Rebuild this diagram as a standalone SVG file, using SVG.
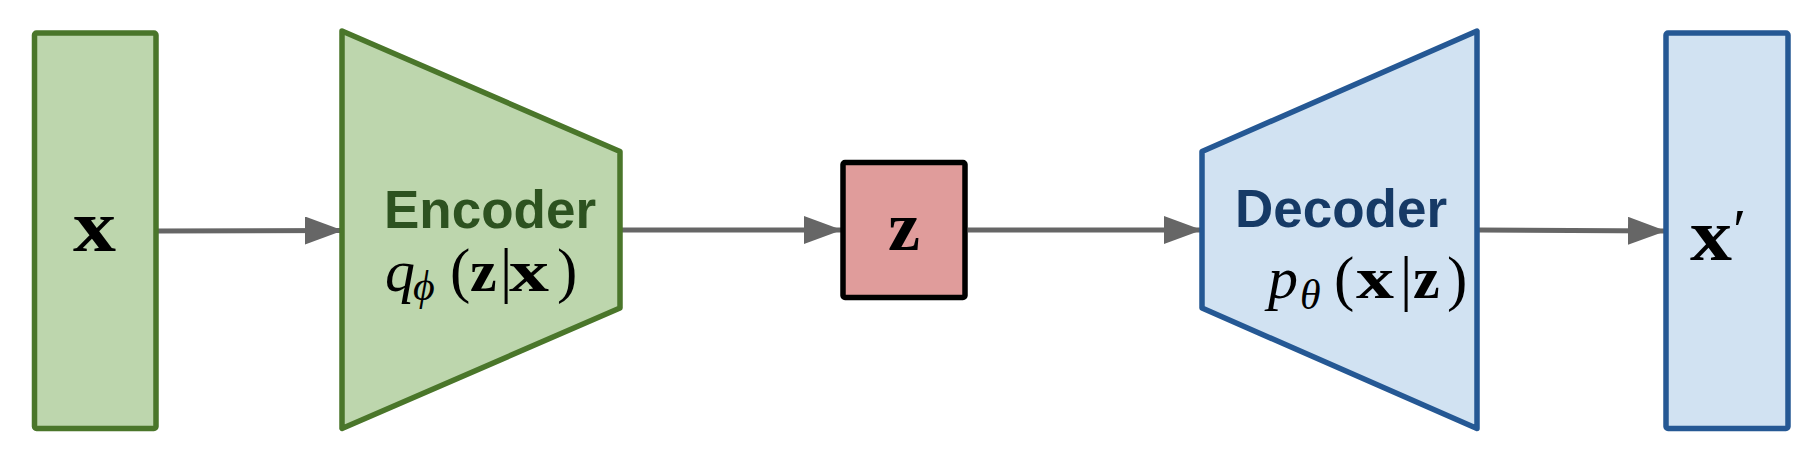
<svg xmlns="http://www.w3.org/2000/svg" width="1806" height="464" viewBox="0 0 1806 464">
<style>
.green{fill:#bdd6ad;stroke:#4a762a;stroke-width:5.5;stroke-linejoin:round}
.blue{fill:#d1e2f2;stroke:#255894;stroke-width:5.5;stroke-linejoin:round}
.red{fill:#e09c9b;stroke:#000;stroke-width:5.5;stroke-linejoin:round}
.conn{stroke:#666;stroke-width:5;fill:none}
.lbl{font-family:"Liberation Sans",Arial,sans-serif;font-weight:bold;font-size:53px}
.m{font-family:"Liberation Serif","Times New Roman",serif;font-size:60px;fill:#000}
.it{font-style:italic}
.bf{font-weight:bold}
.par{font-size:61px}
.big{font-family:"Liberation Serif","Times New Roman",serif;font-weight:bold;fill:#000}
</style>
<defs>
<marker id="arr" markerUnits="userSpaceOnUse" markerWidth="38" markerHeight="28" viewBox="0 0 38 28" refX="37" refY="14" orient="auto">
<path d="M0,0 L38,14 L0,28 Z" fill="#666"/>
</marker>
</defs>
<g id="connectors">
<line class="conn" x1="157" y1="231" x2="342" y2="230.5" marker-end="url(#arr)"/>
<line class="conn" x1="622" y1="230" x2="841" y2="230" marker-end="url(#arr)"/>
<line class="conn" x1="968" y1="230" x2="1201" y2="230" marker-end="url(#arr)"/>
<line class="conn" x1="1479" y1="230" x2="1665" y2="231" marker-end="url(#arr)"/>
</g>
<g id="input-x">
<rect class="green" x="34.5" y="33" width="121.5" height="395.5" rx="2"/>
<text class="big" x="73" y="251" font-size="74" textLength="43" lengthAdjust="spacingAndGlyphs">x</text>
</g>
<g id="encoder">
<polygon class="green" points="342,31 620,151.5 620,308 342,428.5"/>
<text class="lbl" x="384" y="228" fill="#2d5220">Encoder</text>
<text class="m"><tspan class="it" x="385" y="291">q</tspan><tspan class="it" x="413" y="300" font-size="42">ϕ</tspan><tspan class="par" x="450" y="291">(</tspan><tspan class="bf" x="470" y="291">z</tspan><tspan x="500" y="291" class="par">|</tspan><tspan class="bf" x="509" y="291" textLength="40" lengthAdjust="spacingAndGlyphs">x</tspan><tspan class="par" x="557" y="291">)</tspan></text>
</g>
<g id="latent-z">
<rect class="red" x="843" y="162.5" width="122" height="135" rx="2"/>
<text class="big" x="888" y="250" font-size="70" textLength="32" lengthAdjust="spacingAndGlyphs">z</text>
</g>
<g id="decoder">
<polygon class="blue" points="1202,151.5 1477,31 1477,428.5 1202,308"/>
<text class="lbl" x="1235" y="227" fill="#163a66">Decoder</text>
<text class="m"><tspan class="it" x="1268" y="298">p</tspan><tspan class="it" x="1300" y="309" font-size="42">θ</tspan><tspan class="par" x="1334" y="299">(</tspan><tspan class="bf" x="1356" y="298" textLength="38" lengthAdjust="spacingAndGlyphs">x</tspan><tspan class="par" x="1400" y="299">|</tspan><tspan class="bf" x="1413" y="298">z</tspan><tspan class="par" x="1447" y="299">)</tspan></text>
</g>
<g id="output-x-prime">
<rect class="blue" x="1666" y="33" width="122" height="395.5" rx="2"/>
<text class="big" font-size="74"><tspan x="1690" y="260" textLength="42" lengthAdjust="spacingAndGlyphs">x</tspan><tspan x="1733" y="250" font-size="60" font-weight="normal">′</tspan></text>
</g>
</svg>
